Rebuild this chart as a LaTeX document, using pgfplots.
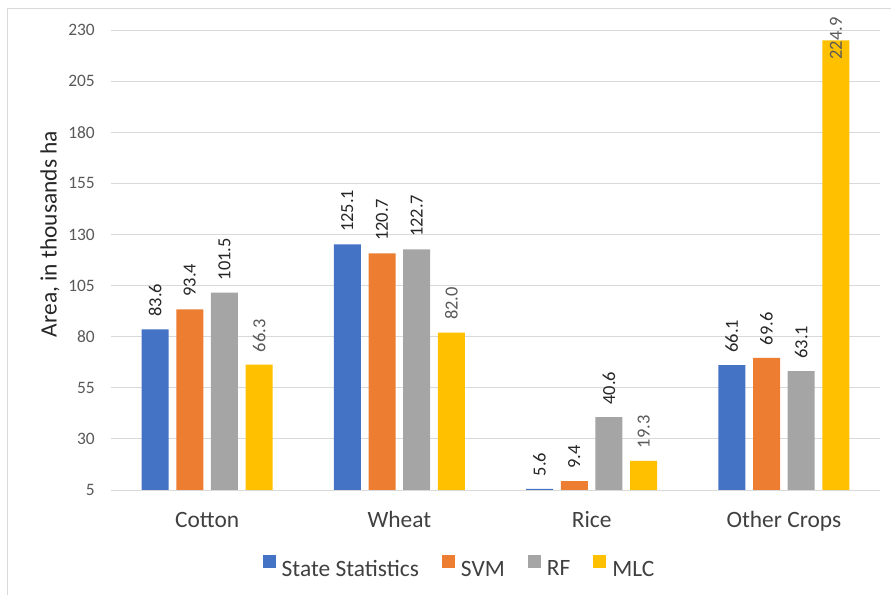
\documentclass[border=0pt]{standalone}
\usepackage{pgfplots}
\pgfplotsset{compat=1.18}
\usepackage{fontspec}
\setmainfont{Carlito}

\definecolor{cBlue}{HTML}{4472C4}
\definecolor{cOrange}{HTML}{ED7D31}
\definecolor{cGray}{HTML}{A5A5A5}
\definecolor{cGold}{HTML}{FFC000}
\definecolor{gridgray}{HTML}{D9D9D9}
\definecolor{ticktext}{HTML}{595959}
\definecolor{labeltext}{HTML}{404040}
\definecolor{darktext}{HTML}{262626}

\begin{document}
\begin{tikzpicture}[x=1bp,y=1bp]
% plot area lower-left corner sits at the origin
\begin{axis}[
  anchor=south west,
  scale only axis, width=769bp, height=460bp,
  xmin=-0.5, xmax=3.5, ymin=5, ymax=230,
  ytick={5,30,55,80,105,130,155,180,205,230},
  xtick={0,1,2,3},
  xticklabels={Cotton,Wheat,Rice,Other Crops},
  major tick length=0pt,
  axis line style={draw=none},
  ymajorgrids,
  grid style={draw=gridgray, line width=0.9bp},
  /pgf/number format/assume math mode=true,
  yticklabel style={anchor=east, inner sep=0pt, xshift=-16bp,
    font=\fontsize{17.5}{20}\selectfont, text=ticktext},
  xticklabel style={anchor=base, inner sep=0pt, yshift=-38bp,
    font=\fontsize{23.5}{28}\selectfont, text=labeltext},
  ylabel={Area, in thousands ha},
  ylabel style={at={(axis description cs:-0.0793,0.5565)}, anchor=center,
    font=\fontsize{23.5}{28}\selectfont, text=darktext},
  ybar=7.7bp, bar width=27bp,
  nodes near coords={\pgfmathprintnumber[fixed,fixed zerofill,precision=1,assume math mode=true]{\pgfplotspointmeta}},
  visualization depends on={y \as \rawy},
  every node near coord/.append style={
    yshift={ifthenelse(\rawy>200,-19.5,12.5)}, rotate=90, anchor=west,
    inner sep=0pt, font=\fontsize{18.5}{22}\selectfont, text=darktext},
  legend columns=-1,
  legend style={at={(axis description cs:0.1973,-0.1665)}, anchor=west,
    draw=none, fill=none, inner sep=0pt, outer sep=0pt,
    font=\fontsize{23.5}{28}\selectfont, text=labeltext,
    nodes={inner sep=0pt},
    /tikz/every odd column/.append style={column sep=6bp},
    /tikz/every even column/.append style={column sep=23bp}},
  legend image code/.code={\fill[#1, draw=none] (0bp,1bp) rectangle (13bp,14bp);},
]
\addplot[fill=cBlue, draw=none] coordinates {(0,83.6) (1,125.1) (2,5.6) (3,66.1)};
\addplot[fill=cOrange, draw=none] coordinates {(0,93.4) (1,120.7) (2,9.4) (3,69.6)};
\addplot[fill=cGray, draw=none] coordinates {(0,101.5) (1,122.7) (2,40.6) (3,63.1)};
\addplot[fill=cGold, draw=none, every node near coord/.append style={text=ticktext}]
  coordinates {(0,66.3) (1,82.0) (2,19.3) (3,224.9)};
\legend{State Statistics, SVM, RF, MLC}
\end{axis}
% chart area frame
\draw[gridgray, line width=0.9bp] (-104,-130) -- (-104,481.5) -- (800,481.5);
\pgfresetboundingbox
\useasboundingbox (-111,-105) rectangle (780,490);
\end{tikzpicture}
\end{document}
